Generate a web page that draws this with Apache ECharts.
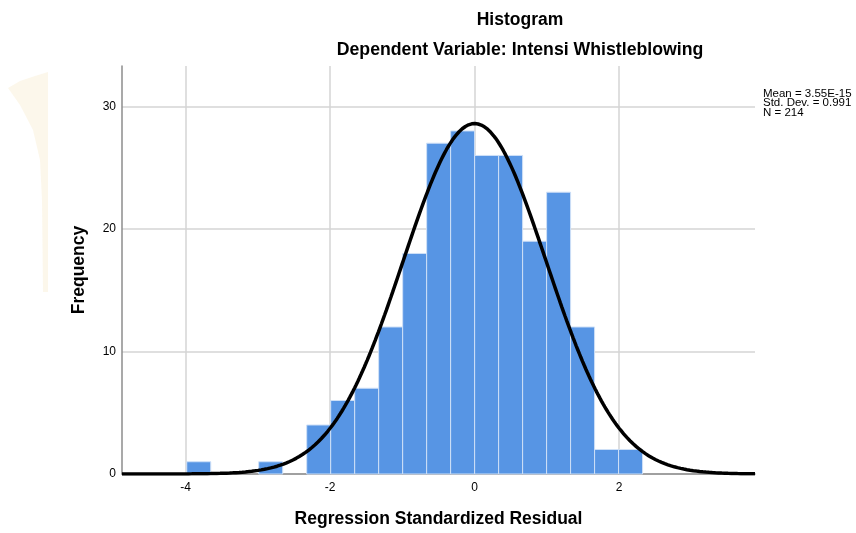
<!DOCTYPE html>
<html>
<head>
<meta charset="utf-8">
<script src="https://cdn.jsdelivr.net/npm/echarts@6/dist/echarts.min.js"></script>
<style>html,body{margin:0;padding:0;background:#fff}#c{width:856px;height:533px}</style>
</head>
<body>
<div id="c"></div>
<script>
// Histogram bins (left edge, right edge) and frequencies
var binLeft  = [-3.984, -2.988, -2.324, -1.992, -1.660, -1.328, -0.996, -0.664, -0.332, 0.000, 0.332, 0.664, 0.996, 1.328, 1.660, 1.992];
var binRight = [-3.652, -2.656, -1.992, -1.660, -1.328, -0.996, -0.664, -0.332, 0.000, 0.332, 0.664, 0.996, 1.328, 1.660, 1.992, 2.324];
var counts   = [1, 1, 4, 6, 7, 12, 18, 27, 28, 26, 26, 19, 23, 12, 2, 2];
var xTicks = [-4, -2, 0, 2];
var yTicks = [0, 10, 20, 30];
// Stated statistics of the fitted normal curve
var statMean = 3.55e-15, statSd = 0.991, statN = 214, binWidth = 0.332;
var statLines = ['Mean = 3.55E-15', 'Std. Dev. = 0.991', 'N = 214'];
var xMin = -4.88, xMax = 3.88, yMax = 33.3;

var barData = counts.map(function (c, i) { return [binLeft[i], binRight[i], c]; });
var curve = [];
var steps = 400;
for (var k = 0; k <= steps; k++) {
  var x = xMin + (xMax - xMin) * k / steps;
  var z = (x - statMean) / statSd;
  curve.push([x, statN * binWidth * Math.exp(-0.5 * z * z) / (statSd * Math.sqrt(2 * Math.PI))]);
}

var chart = echarts.init(document.getElementById('c'), null, {renderer: 'canvas'});
var FONT = '"Liberation Sans", Arial, sans-serif';
chart.setOption({
  animation: false,
  backgroundColor: '#fff',
  title: [
    {text: 'Histogram', left: 515, top: 6, textAlign: 'center',
     textStyle: {fontFamily: FONT, fontSize: 17.5, fontWeight: 'bold', color: '#000'}},
    {text: 'Dependent Variable: Intensi Whistleblowing', left: 515, top: 36, textAlign: 'center',
     textStyle: {fontFamily: FONT, fontSize: 17.7, fontWeight: 'bold', color: '#000'}}
  ],
  graphic: [
    {type: 'polygon', z: -10, silent: true,
     shape: {points: [[8, 88], [20, 81], [35, 76], [48, 72], [48, 292], [43, 292], [42, 200], [40, 160], [33, 130], [20, 105]]},
     style: {fill: 'rgba(246,228,190,0.3)'}},
    {type: 'text', x: 763, y: 89, scaleX: 1.15, silent: true,
     style: {text: statLines.join('\n'), fontFamily: 'Liberation Sans', fontSize: 10, fill: '#000', lineHeight: 9.5}}
  ],
  grid: {left: 122, right: 101, top: 66, bottom: 57, containLabel: false},
  xAxis: {
    type: 'value', min: xMin, max: xMax,
    name: 'Regression Standardized Residual', nameLocation: 'middle', nameGap: 36,
    nameTextStyle: {fontFamily: FONT, fontSize: 17.5, fontWeight: 'bold', color: '#000'},
    axisLine: {show: true, onZero: false, lineStyle: {color: '#8c8c8c', width: 1.5}},
    axisTick: {show: false, customValues: xTicks},
    axisLabel: {customValues: xTicks, fontFamily: FONT, fontSize: 12, color: '#000', margin: 8},
    splitLine: {show: true, lineStyle: {color: '#d4d4d4', width: 1.5}}
  },
  yAxis: {
    type: 'value', min: 0, max: yMax,
    name: 'Frequency', nameLocation: 'middle', nameGap: 34,
    nameTextStyle: {fontFamily: FONT, fontSize: 17.5, fontWeight: 'bold', color: '#000'},
    axisLine: {show: true, onZero: false, lineStyle: {color: '#8c8c8c', width: 1.5}},
    axisTick: {show: false, customValues: yTicks},
    axisLabel: {customValues: yTicks, fontFamily: FONT, fontSize: 12, color: '#000', margin: 6},
    splitLine: {show: true, lineStyle: {color: '#d4d4d4', width: 1.5}}
  },
  series: [
    {
      type: 'custom', z: 2,
      renderItem: function (params, api) {
        var p0 = api.coord([api.value(0), api.value(2)]);
        var p1 = api.coord([api.value(1), 0]);
        return {
          type: 'rect',
          shape: {x: p0[0], y: p0[1], width: p1[0] - p0[0], height: p1[1] - p0[1]},
          style: {fill: '#5795e4', stroke: '#cfe0f7', lineWidth: 1}
        };
      },
      encode: {x: [0, 1], y: 2},
      data: barData
    },
    {
      type: 'line', z: 3, data: curve, showSymbol: false, smooth: false,
      lineStyle: {color: '#000', width: 3.5}, clip: true
    }
  ]
});
</script>
</body>
</html>
